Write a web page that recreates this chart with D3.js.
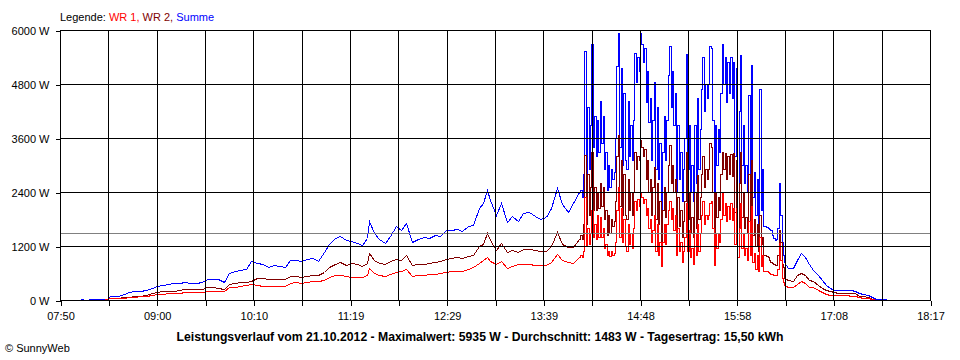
<!DOCTYPE html>
<html><head><meta charset="utf-8">
<script src="https://cdn.jsdelivr.net/npm/d3@7"></script>
<style>
body{margin:0;background:#fff}
svg{display:block}
text{font-family:"Liberation Sans",Arial,sans-serif;font-size:11px;fill:#000}
</style>
</head><body><svg id="chart" width="960" height="360"></svg>
<script>
// ---- data ----
const times = [
"08:04","08:06","08:08","08:14","08:20","08:24","08:26","08:28","08:32","08:36","08:40","08:44","08:48","08:52","08:56",
"09:00","09:04","09:08","09:12","09:16","09:20","09:24","09:28","09:32","09:36","09:40","09:44","09:48","09:52","09:56",
"10:00","10:04","10:08","10:12","10:16","10:20","10:24","10:28","10:32","10:36","10:40","10:44","10:48","10:52","10:56",
"11:00","11:04","11:08","11:12","11:16","11:20","11:24","11:28","11:31","11:33","11:36","11:40","11:44","11:48","11:52","11:56","11:59",
"12:04","12:08","12:12","12:16","12:20","12:24","12:28","12:32","12:36","12:40","12:44","12:48","12:52","12:55","12:58",
"13:00","13:04","13:08","13:12","13:16","13:20","13:24","13:28","13:32","13:36","13:40","13:44","13:48","13:52","13:56","14:00","14:04",
"14:05","14:06","14:07","14:08","14:09","14:10","14:11","14:12","14:13","14:14","14:15","14:16","14:17","14:18","14:19","14:20","14:21","14:22","14:23","14:24",
"14:25","14:26","14:27","14:28","14:29","14:30","14:31","14:32","14:33","14:34","14:35","14:36","14:37","14:38","14:39","14:40","14:41","14:42","14:43","14:44",
"14:45","14:46","14:47","14:48","14:49","14:50","14:51","14:52","14:53","14:54","14:55","14:56","14:57","14:58","14:59",
"15:00","15:01","15:02","15:03","15:04","15:05","15:06","15:07","15:08","15:09","15:10","15:11","15:12","15:13","15:14","15:15","15:16","15:17","15:18","15:19",
"15:20","15:21","15:22","15:23","15:24","15:25","15:26","15:27","15:28","15:29","15:30","15:31","15:32","15:33","15:34","15:35","15:36","15:37","15:38","15:39",
"15:40","15:41","15:42","15:43","15:44","15:45","15:46","15:47","15:48","15:49","15:50","15:51","15:52","15:53","15:54","15:55","15:56","15:57","15:58","15:59",
"16:00","16:01","16:02","16:03","16:04","16:05","16:06","16:07","16:08","16:09","16:10","16:11","16:12","16:13","16:14","16:15","16:16","16:17","16:18","16:19",
"16:20","16:21","16:22","16:23","16:24","16:25","16:26","16:27","16:28","16:29","16:30","16:31","16:32",
"16:35","16:38","16:41","16:44","16:47","16:50","16:53","16:56","16:59","17:02","17:05","17:08","17:11","17:14","17:17","17:20","17:23","17:26","17:29","17:32","17:35","17:38","17:41","17:44","17:47"
];

const summe = [
0,15,0,20,20,25,95,95,95,140,170,190,207,222,260,
311,330,360,370,380,393,385,385,400,467,473,460,407,600,640,
667,700,860,830,790,726,778,760,741,900,890,874,920,940,867,
1060,1250,1370,1422,1333,1320,1270,1222,1370,1763,1500,1350,1260,1420,1650,1550,1719,
1300,1350,1390,1370,1450,1430,1560,1556,1570,1540,1650,1667,2037,2148,2444,
2222,1900,2148,1740,1870,1760,1926,1950,1870,1800,1850,2050,2481,2140,1950,2150,2400,
2450,2300,2800,5530,2650,4300,2900,3900,5680,3400,4100,3200,4000,3300,4430,3500,4100,2900,3300,2450,
3000,2500,2900,2700,2850,3600,5200,5930,3400,5150,3000,4600,3100,2900,4430,3200,3900,3100,4000,5500,
4850,5400,5100,5935,5700,5300,5600,4400,5100,3950,4500,3100,4000,4850,2900,
4300,2700,3500,2030,3300,4100,3100,4000,5000,5640,4300,5100,3900,4600,2400,3900,2700,3300,2200,2900,
3600,5460,2900,3900,2400,3000,2200,3900,2600,4500,2900,3800,4700,5400,4200,4800,4500,4800,5640,5600,
4000,2200,3900,3000,3800,3300,4600,5700,4800,5400,4400,5300,4600,5400,4500,5300,3200,5150,2400,4200,
5450,3000,3900,2600,3000,2400,4550,2700,5230,2300,2850,1900,2700,1700,4700,2000,2900,1650,1640,1620,
1600,1580,1556,1450,1380,1333,1350,1600,2600,1900,1300,1000,850,
720,711,880,1044,960,800,660,560,440,330,270,230,220,220,220,215,190,160,140,110,70,20,15,15,0
];

const wr2 = [
0,0,0,0,0,20,45,50,52,60,75,85,90,110,150,
185,195,205,210,225,237,240,245,255,281,280,270,237,350,375,
390,400,415,500,480,467,467,467,467,540,530,519,540,550,556,
620,740,793,852,778,820,790,756,830,1052,900,830,793,860,920,900,1000,
778,790,805,815,850,860,920,935,945,935,970,1000,1200,1244,1496,
1333,1120,1274,1060,1120,1070,1126,1140,1111,1090,1100,1200,1519,1250,1180,1170,1350,
1450,1350,1700,3220,1700,2800,1900,2500,3300,2000,2500,2000,2400,2050,2600,2100,2500,1800,2000,1450,
1900,1500,1800,1650,1750,2200,3200,3670,2100,3100,1900,2800,1900,1800,2700,2000,2400,1900,2400,3300,
2900,3200,3100,3560,3400,3200,3350,2700,3100,2400,2700,1900,2500,2950,1800,
2600,1700,2200,1300,2000,2500,1850,2400,3000,3450,2600,3000,2400,2700,1500,2300,1650,2000,1400,1750,
2200,3300,1800,2400,1500,1850,1400,2400,1600,2780,1800,2300,2800,3200,2500,2900,2700,2900,3490,3400,
2400,1400,2400,1850,2300,2000,2800,3300,2900,3270,2700,3200,2800,3250,2750,3270,1950,3100,1500,2600,
3300,1850,2400,1600,1850,1500,2800,1700,3100,1450,1800,1200,1700,1100,1900,1250,1400,1000,990,980,
960,900,852,820,790,778,780,1000,1556,1300,800,740,500,
440,420,560,610,560,450,420,330,270,220,190,175,165,160,160,155,150,100,85,70,30,0,0,0,0
];

const wr1 = [
0,0,0,0,0,20,40,45,48,55,65,75,80,100,115,
133,140,148,150,160,170,175,180,185,200,205,205,207,280,300,
310,330,348,330,311,311,311,311,311,385,393,385,400,415,422,
450,520,545,556,530,504,504,504,560,704,600,545,533,580,625,650,681,
533,550,560,570,585,600,625,640,650,650,690,740,815,880,948,
870,790,874,710,760,790,800,790,778,778,778,850,1022,900,840,815,950,
1000,950,1100,2300,1200,1600,1250,1500,2000,1400,1700,1350,1900,1400,1850,1400,1600,1150,1250,1000,
1100,980,1100,1000,1050,1300,2000,2500,1400,2050,1300,1800,1200,1100,1700,1250,1500,1150,1600,2200,
2000,2250,2100,2370,2300,2150,2250,1900,2050,1600,1800,1300,1550,1900,1100,
1700,1000,1300,760,1300,1700,1250,1700,2000,2200,1800,2050,1550,1900,1000,1600,1100,1300,850,1100,
1400,2150,1100,1550,950,1150,800,1500,1000,1700,1100,1500,1900,2200,1700,1900,1800,1900,2150,2200,
1600,780,1500,1150,1500,1300,1800,2400,1900,2150,1750,2100,1800,2150,1780,2050,1250,2050,950,1600,
2150,1150,1500,1000,1150,900,1750,1000,2100,850,1050,700,1000,650,1400,750,1000,650,640,640,
620,600,580,570,560,555,560,700,1260,900,500,400,330,
300,290,360,420,370,300,290,230,180,140,120,110,110,105,105,100,95,60,50,40,20,0,0,0,0
];

const yTickValues = [0, 1200, 2400, 3600, 4800, 6000];
const xTickLabels = ["07:50","09:00","10:10","11:19","12:29","13:39","14:48","15:58","17:08","18:17"];
const averageValue = 1483;
const legendItems = [
  {label: "WR 1, ", color: "#ff0000"},
  {label: "WR 2, ", color: "#800000"},
  {label: "Summe", color: "#0000ff"}
];
const titleText = "Leistungsverlauf vom 21.10.2012 - Maximalwert: 5935 W - Durchschnitt: 1483 W - Tagesertrag: 15,50 kWh";
const footerText = "\u00A9 SunnyWeb";

// ---- drawing ----
const toMin = s => { const p = s.split(":").map(Number); return p[0]*60 + p[1]; };
const svg = d3.select("#chart");
svg.append("rect").attr("width",960).attr("height",360).attr("fill","#fff");

const tStart = toMin(xTickLabels[0]), tEnd = toMin(xTickLabels[xTickLabels.length-1]);
const L = 60, R = 930, T = 30, B = 300;
const x = d3.scaleLinear().domain([tStart, tEnd]).range([L, R]);
const y = d3.scaleLinear().domain([0, 6000]).range([B, T]);
const nInt = (xTickLabels.length - 1) * 2;
const tickVals = d3.range(nInt + 1).map(i => tStart + (tEnd - tStart) * i / nInt);

const tMin = times.map(toMin);
// dense 1-minute samples are drawn as vertical strokes, sparse parts as straight segments
const iA = tMin.indexOf(toMin("14:04")), iB = tMin.indexOf(toMin("16:32"));
const px = d => Math.round(x(d.t)) + 0.5, py = d => Math.round(y(d.v)) + 0.5;
const lineLin = d3.line().x(px).y(py);
const lineStep = d3.line().x(px).y(py).curve(d3.curveStepAfter);

const plot = svg.append("g");
[[summe, "#0000ff"], [wr2, "#800000"], [wr1, "#ff0000"]].forEach(([s, c]) => {
  const pts = s.map((v, i) => ({t: tMin[i], v}));
  const parts = [[pts.slice(0, iA + 1), lineLin], [pts.slice(iA, iB + 1), lineStep], [pts.slice(iB), lineLin]];
  parts.forEach(([p, gen]) => {
    plot.append("path").datum(p).attr("d", gen)
      .attr("fill", "none").attr("stroke", c).attr("stroke-width", 1)
      .attr("shape-rendering", "crispEdges");
  });
});

// average line
svg.append("line")
  .attr("x1", L).attr("x2", R)
  .attr("y1", Math.round(y(averageValue)) + 0.5).attr("y2", Math.round(y(averageValue)) + 0.5)
  .attr("stroke", "#808080").attr("shape-rendering", "crispEdges");

// grid
const grid = svg.append("g").attr("stroke", "#000").attr("shape-rendering", "crispEdges");
grid.selectAll("line.v").data(tickVals).join("line")
  .attr("x1", d => Math.round(x(d)) + 0.5).attr("x2", d => Math.round(x(d)) + 0.5)
  .attr("y1", T).attr("y2", B);
grid.selectAll("line.h").data(yTickValues).join("line").attr("class","h")
  .attr("x1", L).attr("x2", R + 1)
  .attr("y1", d => Math.round(y(d)) + 0.5).attr("y2", d => Math.round(y(d)) + 0.5);

// axes
const xAxis = d3.axisBottom(x).tickValues(tickVals).tickSize(5).tickSizeOuter(0).tickPadding(7)
  .tickFormat((d, i) => i % 2 === 0 ? xTickLabels[i / 2] : "");
const gx = svg.append("g").attr("transform", `translate(0.5,${B + 0.5})`).call(xAxis);
gx.select(".domain").remove();
gx.selectAll("line").attr("stroke", "#000").attr("shape-rendering", "crispEdges");
gx.selectAll("text").attr("font-size", 11).attr("font-family", null).attr("fill", "#000");

const yAxis = d3.axisLeft(y).tickValues(yTickValues).tickSize(5).tickSizeOuter(0).tickPadding(6)
  .tickFormat(d => d + " W");
const gy = svg.append("g").attr("transform", `translate(${L + 0.5},0.5)`).call(yAxis);
gy.select(".domain").remove();
gy.selectAll("line").attr("stroke", "#000").attr("shape-rendering", "crispEdges");
gy.selectAll("text").attr("font-size", 11).attr("font-family", null).attr("fill", "#000");

// legend
const lg = svg.append("text").attr("x", 60).attr("y", 21);
lg.append("tspan").text("Legende: ").attr("fill", "#000");
legendItems.forEach(it => lg.append("tspan").text(it.label).attr("fill", it.color));

// title
svg.append("text").attr("x", 480).attr("y", 341).attr("text-anchor", "middle")
  .attr("font-weight", "bold").style("font-size", "12px")
  .attr("textLength", 607).attr("lengthAdjust", "spacingAndGlyphs")
  .text(titleText);

// footer
svg.append("text").attr("x", 5).attr("y", 352).text(footerText);
</script>
</body></html>
